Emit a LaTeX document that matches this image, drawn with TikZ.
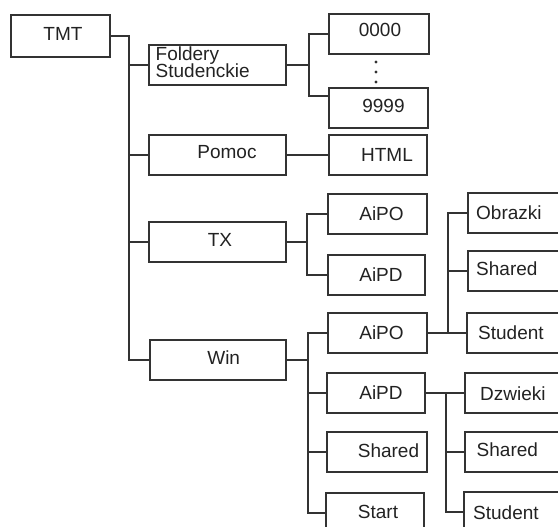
\documentclass[tikz,border=0pt]{standalone}
\usepackage{fontspec}
\setmainfont{Liberation Sans}
\usetikzlibrary{calc}
\definecolor{ln}{HTML}{333333}
\definecolor{tx}{HTML}{222222}
\newcommand{\mybox}[5]{\node[box, minimum width={(#4-#2)*1pt}, minimum height={(#5-#3)*1pt}] (#1) at ({(#2+#4)/2},{(#3+#5)/2}) {};}
\begin{document}
\begin{tikzpicture}[x=1pt,y=-1pt,
  box/.style={draw=ln, line width=1.8pt, inner sep=0pt, outer sep=0pt},
  lbl/.style={text=tx, font=\fontsize{19}{17}\selectfont, inner sep=0pt, anchor=base},
  lbll/.style={lbl, anchor=base west},
  wire/.style={draw=ln, line width=1.8pt}]
\useasboundingbox (0,0) rectangle (558,527);
\clip (0,0) rectangle (558,527);
% boxes
\mybox{tmt}{11}{15}{110}{57}
\mybox{fold}{149}{45}{286}{85}
\mybox{pomoc}{149}{135}{286}{175}
\mybox{tx}{149}{222}{286}{262}
\mybox{win}{150}{340}{286}{380}
\mybox{n0000}{329}{14}{429}{54}
\mybox{n9999}{329}{88}{428}{128}
\mybox{html}{329}{135}{427}{175}
\mybox{txaipo}{328}{194}{427}{234}
\mybox{txaipd}{328}{255}{425}{295}
\mybox{waipo}{328}{313}{427}{353}
\mybox{waipd}{327}{373}{425}{413}
\mybox{wshared}{327}{432}{427}{472}
\mybox{start}{326}{493}{424}{533}
\mybox{obr}{468}{193}{600}{233}
\mybox{shr1}{468}{251}{600}{291}
\mybox{stu1}{467}{313}{600}{353}
\mybox{dzw}{465}{373}{600}{413}
\mybox{shr2}{465}{432}{600}{472}
\mybox{stu2}{464}{492}{600}{532}
% texts
\node[lbl] (t-tmt) at (63,41) {TMT};
\node[lbll] (t-fold1) at (155.5,60.5) {Foldery};
\node[lbll] (t-fold2) at (155.5,77.5) {Studenckie};
\node[lbl] (t-pomoc) at (227,159) {Pomoc};
\node[lbl] (t-tx) at (220,246.5) {TX};
\node[lbl] (t-win) at (223.7,364.5) {Win};
\node[lbl] (t-0000) at (380,37) {0000};
\node[lbl] (t-9999) at (383.5,113) {9999};
\node[lbl] (t-html) at (387,161.5) {HTML};
\node[lbl] (t-txaipo) at (381.5,220.5) {AiPO};
\node[lbl] (t-txaipd) at (381,281) {AiPD};
\node[lbl] (t-waipo) at (381.5,339.5) {AiPO};
\node[lbl] (t-waipd) at (381,399.5) {AiPD};
\node[lbl] (t-wshared) at (388.5,457) {Shared};
\node[lbl] (t-start) at (378,518) {Start};
\node[lbll] (t-obr) at (476,219) {Obrazki};
\node[lbll] (t-shr1) at (476,276) {Shared};
\node[lbll] (t-stu1) at (478,339.5) {Student};
\node[lbll] (t-dzw) at (480,400) {Dzwieki};
\node[lbll] (t-shr2) at (476.5,456.5) {Shared};
\node[lbll] (t-stu2) at (473,519) {Student};
% dots
\fill[ln] (376,62) circle (1.7);
\fill[ln] (376,72) circle (1.7);
\fill[ln] (376,82) circle (1.7);
% connectors
\draw[wire] (tmt.east) -- ++(19,0) coordinate (trk) |- (win.west);
\draw[wire] (trk) |- (fold.west);
\draw[wire] (trk) |- (pomoc.west);
\draw[wire] (trk) |- (tx.west);
\draw[wire] (fold.east) -- ++(23,0) coordinate (fj) |- (n0000.west);
\draw[wire] (fj) |- ($(n9999.north west)+(0,8)$);
\draw[wire] (pomoc.east) -- (html.west);
\draw[wire] (tx.east) -- ++(21,0) coordinate (tj) |- (txaipo.west);
\draw[wire] (tj) |- (txaipd.west);
\draw[wire] (win.east) -- ++(22,0) coordinate (wj) |- (start.west);
\draw[wire] (wj) |- (waipo.west);
\draw[wire] (wj) |- (waipd.west);
\draw[wire] (wj) |- (wshared.west);
\draw[wire] (waipo.east) -- ++(21,0) coordinate (aj) |- (obr.west);
\draw[wire] (aj) |- (shr1.west);
\draw[wire] (aj) |- (stu1.west);
\draw[wire] (waipd.east) -- ++(21,0) coordinate (dj) |- (stu2.west);
\draw[wire] (dj) |- (dzw.west);
\draw[wire] (dj) |- (shr2.west);
\end{tikzpicture}
\end{document}
